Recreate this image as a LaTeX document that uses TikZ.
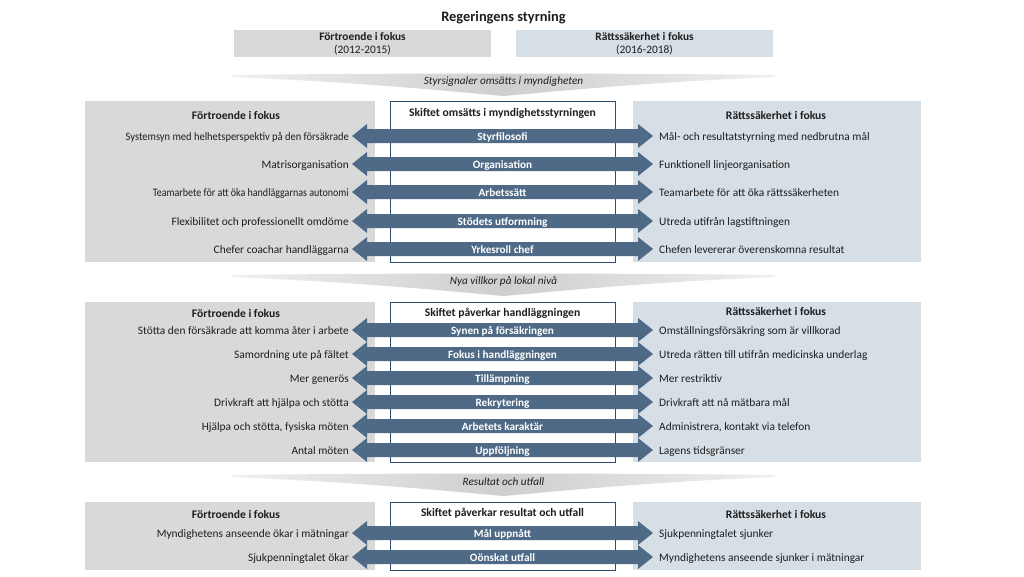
\documentclass[tikz,border=0pt]{standalone}
\usepackage{fontspec}
\setmainfont{Carlito}
\usepackage{graphicx}
\usepackage{tikz}
\usetikzlibrary{positioning}
\definecolor{panelgray}{RGB}{217,217,217}
\definecolor{panelblue}{RGB}{214,223,230}
\definecolor{shiftblue}{RGB}{79,106,134}
\definecolor{boxborder}{RGB}{46,78,110}
\definecolor{textdark}{RGB}{30,30,30}

% one row: name, y, left text, arrow label, right text
\newcommand{\shiftrow}[5]{%
  \fill[shiftblue] (352,#2) -- (367,{#2-12}) -- (367,{#2-7}) -- (638,{#2-7})
    -- (638,{#2-12}) -- (653,#2) -- (638,{#2+12}) -- (638,{#2+7})
    -- (367,{#2+7}) -- (367,{#2+12}) -- cycle;
  \node[shiftlabel] (#1) at (502.5,#2) {#4};
  \node[lefttext] (#1-l) at (349,#2) {#3};
  \node[righttext] (#1-r) at (659,#2) {#5};
}
% funnel between the levels: name, top y, text
\newcommand{\funnel}[3]{%
  \shade[funnelfill] (232,{#2+2}) .. controls (400,#2) and (600,#2) .. (775,{#2+2})
    -- (775,{#2+4}) .. controls (650,{#2+9}) and (560,{#2+18}) .. (503.5,{#2+23})
    .. controls (447,{#2+18}) and (357,{#2+9}) .. (232,{#2+4}) -- cycle;
  \node[funneltext] (#1) at (503.5,{#2+8.5}) {#3};
}
\newcommand{\tight}[2]{\scalebox{#1}[1]{#2}}

\begin{document}
\begin{tikzpicture}[
    x=1pt, y=-1pt,
    font=\fontsize{11.4}{13}\selectfont, text=textdark,
    topbox/.style={minimum width=257pt, minimum height=27pt, inner sep=0pt,
                   align=center, font=\fontsize{11.4}{13}\selectfont},
    panelleft/.style={fill=panelgray, minimum width=290pt, inner sep=0pt},
    panelright/.style={fill=panelblue, minimum width=288pt, inner sep=0pt},
    centerbox/.style={draw=boxborder, line width=1pt, fill=white,
                      minimum width=225pt, inner sep=0pt},
    heading/.style={font=\bfseries\fontsize{11.6}{13}\selectfont, inner sep=0pt},
    shiftlabel/.style={text=white, font=\bfseries\fontsize{11.2}{13}\selectfont,
                       inner sep=0pt, text height=9pt, text depth=0pt},
    lefttext/.style={anchor=east, inner sep=0pt, text height=8pt, text depth=0pt},
    righttext/.style={anchor=west, inner sep=0pt, text height=8pt, text depth=0pt},
    funnelfill/.style={left color=black!6, right color=black!6, middle color=black!19},
    funneltext/.style={font=\itshape\fontsize{11.2}{13}\selectfont, inner sep=0pt}
]
\useasboundingbox[fill=white] (0,0) rectangle (1024,576);

\node[font=\bfseries\fontsize{14.4}{16}\selectfont, inner sep=0pt] (title)
    at (503.5,18) {Regeringens styrning};
\node[topbox, fill=panelgray] (top-l) at (362.5,43.5)
    {\textbf{Förtroende i fokus}\\(2012-2015)};
\node[topbox, fill=panelblue] (top-r) at (644.5,43.5)
    {\textbf{Rättssäkerhet i fokus}\\(2016-2018)};

% level 1
\funnel{fun1}{73}{Styrsignaler omsätts i myndigheten}
\node[panelleft, minimum height=161pt] (p1l) at (230,181.5) {};
\node[panelright, minimum height=161pt] (p1r) at (777,181.5) {};
\node[centerbox, minimum height=161pt] (p1c) at (502.5,181.5) {};
\node[heading] (h1l) at (236,115) {Förtroende i fokus};
\node[heading] (h1r) at (776,115) {Rättssäkerhet i fokus};
\node[heading] (h1c) at (502.5,113) {Skiftet omsätts i myndighetsstyrningen};
\shiftrow{r11}{136}{\tight{0.92}{Systemsyn med helhetsperspektiv på den försäkrade}}{Styrfilosofi}{Mål- och resultatstyrning med nedbrutna mål}
\shiftrow{r12}{164}{Matrisorganisation}{Organisation}{Funktionell linjeorganisation}
\shiftrow{r13}{192}{\tight{0.88}{Teamarbete för att öka handläggarnas autonomi}}{Arbetssätt}{Teamarbete för att öka rättssäkerheten}
\shiftrow{r14}{221}{Flexibilitet och professionellt omdöme}{Stödets utformning}{Utreda utifrån lagstiftningen}
\shiftrow{r15}{249}{Chefer coachar handläggarna}{Yrkesroll chef}{Chefen levererar överenskomna resultat}

% level 2
\funnel{fun2}{273}{Nya villkor på lokal nivå}
\node[panelleft, minimum height=160pt] (p2l) at (230,382) {};
\node[panelright, minimum height=160pt] (p2r) at (777,382) {};
\node[centerbox, minimum height=160pt] (p2c) at (502.5,382) {};
\node[heading] (h2l) at (236,313) {Förtroende i fokus};
\node[heading] (h2r) at (776,311) {Rättssäkerhet i fokus};
\node[heading] (h2c) at (502.5,313) {Skiftet påverkar handläggningen};
\shiftrow{r21}{330}{Stötta den försäkrade att komma åter i arbete}{Synen på försäkringen}{Omställningsförsäkring som är villkorad}
\shiftrow{r22}{354}{Samordning ute på fältet}{Fokus i handläggningen}{Utreda rätten till utifrån medicinska underlag}
\shiftrow{r23}{378}{Mer generös}{Tillämpning}{Mer restriktiv}
\shiftrow{r24}{402}{Drivkraft att hjälpa och stötta}{Rekrytering}{Drivkraft att nå mätbara mål}
\shiftrow{r25}{426}{Hjälpa och stötta, fysiska möten}{Arbetets karaktär}{Administrera, kontakt via telefon}
\shiftrow{r26}{450}{Antal möten}{Uppföljning}{Lagens tidsgränser}

% level 3
\funnel{fun3}{473}{Resultat och utfall}
\node[panelleft, minimum height=68pt] (p3l) at (230,536) {};
\node[panelright, minimum height=68pt] (p3r) at (777,536) {};
\node[centerbox, minimum height=68pt] (p3c) at (502.5,536) {};
\node[heading] (h3l) at (236,514) {Förtroende i fokus};
\node[heading] (h3r) at (776,514) {Rättssäkerhet i fokus};
\node[heading] (h3c) at (502.5,513) {Skiftet påverkar resultat och utfall};
\shiftrow{r31}{533}{Myndighetens anseende ökar i mätningar}{Mål uppnått}{Sjukpenningtalet sjunker}
\shiftrow{r32}{557}{Sjukpenningtalet ökar}{Oönskat utfall}{Myndighetens anseende sjunker i mätningar}
\end{tikzpicture}
\end{document}
